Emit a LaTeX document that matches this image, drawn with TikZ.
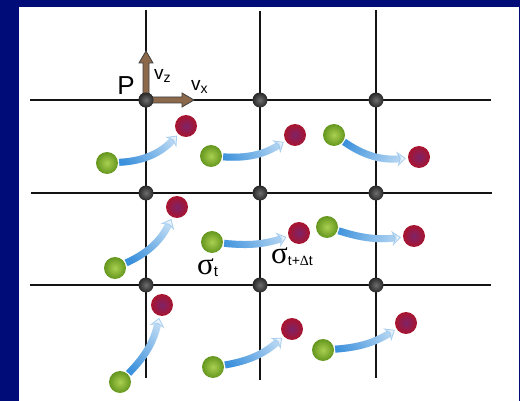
\documentclass[tikz,border=0pt]{standalone}
\usepackage{fontspec}
\setmainfont{Liberation Sans}
\newfontfamily\grk{Liberation Serif}
\usetikzlibrary{arrows.meta,fadings}
\definecolor{navy}{RGB}{0,12,120}
\definecolor{gridc}{RGB}{20,20,20}
\definecolor{greenhi}{RGB}{170,208,80}
\definecolor{greenlo}{RGB}{100,150,30}
\definecolor{redhi}{RGB}{125,35,105}
\definecolor{redlo}{RGB}{170,20,45}
\definecolor{dothi}{RGB}{110,110,110}
\definecolor{dotlo}{RGB}{40,40,40}
\definecolor{flowdark}{RGB}{60,145,220}
\definecolor{flowlight}{RGB}{195,222,245}
\definecolor{tipfill}{RGB}{235,244,252}
\definecolor{brownv}{RGB}{140,105,75}
\tikzfading[name=flowfade, left color=transparent!0, right color=transparent!100]
\begin{document}
\begin{tikzpicture}[x=1pt,y=-1pt,
  gridline/.style={draw=gridc, line width=2pt},
  griddot/.style={circle, minimum size=15pt, inner sep=0pt, inner color=dothi, outer color=dotlo},
  gball/.style={circle, minimum size=22pt, inner sep=0pt, inner color=greenhi, outer color=greenlo},
  rball/.style={circle, minimum size=22pt, inner sep=0pt, inner color=redhi, outer color=redlo},
  flowbase/.style={draw=flowlight, line width=7pt, shorten <=1pt, shorten >=2pt,
     -{Stealth[length=9pt,width=15pt,line width=0.8pt,fill=tipfill,color=flowlight!80!flowdark]}},
  flowtop/.style={draw=flowdark, line width=7pt, shorten <=1pt, shorten >=6pt, path fading=flowfade},
  vecarrow/.style={draw=black!75, line width=0.8pt, fill=brownv},
  vlabel/.style={font=\fontsize{19}{19}\selectfont, inner sep=0pt},
  sig/.style={inner sep=0pt}
]
\fill[navy] (0,0) rectangle (520,401);
\fill[white] (19,7) rectangle (518.5,401);

% grid line ends
\coordinate (t1) at (146,10);  \coordinate (b1) at (146,378);
\coordinate (t2) at (260,11);  \coordinate (b2) at (260,380);
\coordinate (t3) at (376,10);  \coordinate (b3) at (376,378);
\coordinate (l1) at (30,100);  \coordinate (e1) at (491,100);
\coordinate (l2) at (31,193);  \coordinate (e2) at (492,193);
\coordinate (l3) at (30,285);  \coordinate (e3) at (491,285);
\foreach \a/\b in {t1/b1,t2/b2,t3/b3,l1/e1,l2/e2,l3/e3}
  \draw[gridline] (\a) -- (\b);

% grid dots
\foreach \i/\x in {1/146,2/260,3/376}
  \foreach \j/\y in {1/100,2/193,3/285}
    \node[griddot] (d\j\i) at (\x,\y) {};

% spheres
\node[gball] (g1) at (107,163) {};  \node[rball] (r1) at (186,126) {};
\node[gball] (g2) at (211,156) {};  \node[rball] (r2) at (295,135) {};
\node[gball] (g3) at (334,135) {};  \node[rball] (r3) at (419,157) {};
\node[gball] (g4) at (115,268) {};  \node[rball] (r4) at (177,207) {};
\node[gball] (g5) at (212,242) {};  \node[rball] (r5) at (299,233) {};
\node[gball] (g6) at (327,227) {};  \node[rball] (r6) at (414,236) {};
\node[gball] (g7) at (120,382) {};  \node[rball] (r7) at (162,305) {};
\node[gball] (g8) at (213,367) {};  \node[rball] (r8) at (292,329) {};
\node[gball] (g9) at (323,350) {};  \node[rball] (r9) at (406,323) {};

% flow arrows
\foreach \n/\b/\ang in {1/22/25, 2/18/10, 3/20/-15, 4/20/45, 5/12/5, 6/12/-5, 7/16/60, 8/16/25, 9/14/15}{
  \draw[flowbase] (g\n) to[bend right=\b] (r\n);
  \draw[flowtop, fading angle=\ang] (g\n) to[bend right=\b] (r\n);
}

% velocity vectors at P
\coordinate (vzend) at (146,51);
\coordinate (vxend) at (194,100);
\fill[vecarrow] (143,100) -- (143,63) -- (139,63) -- (vzend) -- (153,63) -- (149,63) -- (149,100) -- cycle;
\fill[vecarrow] (146,97) -- (182,97) -- (182,93) -- (vxend) -- (182,107) -- (182,103) -- (146,103) -- cycle;
\node[griddot] at (d11) {};

\node[inner sep=0pt, font=\fontsize{26}{26}\selectfont, anchor=base] (P) at (126,95) {P};
\node[vlabel, anchor=base west] (vz) at (154,80) {v\raisebox{-3pt}{\fontsize{14}{14}\selectfont z}};
\node[vlabel, anchor=base west] (vx) at (191,91) {v\raisebox{-3pt}{\fontsize{14}{14}\selectfont x}};

\node[sig, anchor=base west] (st) at (197,274) {{\grk\fontsize{31}{31}\selectfont σ}\raisebox{-2pt}{\fontsize{15}{15}\selectfont t}};
\node[sig, anchor=base west] (std) at (271,263) {{\grk\fontsize{31}{31}\selectfont σ}\raisebox{-2pt}{\fontsize{14}{14}\selectfont t+{\grk Δ}t}};
\end{tikzpicture}
\end{document}
